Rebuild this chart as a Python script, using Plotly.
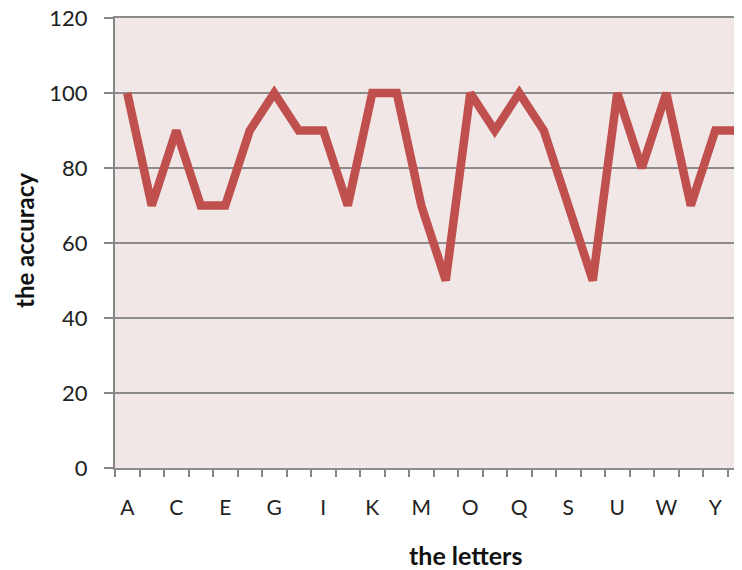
import plotly.graph_objects as go

letters = list("ABCDEFGHIJKLMNOPQRSTUVWXYZ")
accuracy = [100, 70, 90, 70, 70, 90, 100, 90, 90, 70, 100, 100, 70,
            50, 100, 90, 100, 90, 70, 50, 100, 80, 100, 70, 90, 90]
y_ticks = [0, 20, 40, 60, 80, 100, 120]
x_label_letters = letters[::2]

# page offset (browser body margin) compensation: figure placed at (8, 8)
L, T, B = 107, 10, 102
W, H = 734, 562
PW, PH = W - L, H - T - B

fig = go.Figure()
fig.add_trace(go.Scatter(
    x=letters, y=accuracy, mode="lines",
    line=dict(color="#C0504D", width=8.5),
    hoverinfo="skip",
))

fnt = "Lato, Carlito, Calibri, sans-serif"
fig.update_layout(
    width=W, height=H,
    margin=dict(l=L, r=0, t=T, b=B, autoexpand=False),
    paper_bgcolor="white",
    plot_bgcolor="#F2E7E7",
    showlegend=False,
    xaxis=dict(
        type="category",
        categoryorder="array", categoryarray=letters,
        range=[-0.5, 25.09],
        tickmode="array", tickvals=x_label_letters, ticktext=x_label_letters,
        showgrid=False,
        showline=True, linecolor="#8C8C8C", linewidth=2, mirror=True,
        ticks="",
        minor=dict(ticks="outside", tickmode="array",
                   tickvals=[i - 0.5 for i in range(27)],
                   ticklen=7, tickcolor="#868686", tickwidth=1.5),
        tickfont=dict(family=fnt, size=21, color="#222222"),
        ticklabelstandoff=20,
        zeroline=False,
        automargin=False,
    ),
    yaxis=dict(
        range=[0, 120],
        tickmode="array", tickvals=y_ticks,
        showgrid=True, gridcolor="#8C8C8C", gridwidth=1.5,
        showline=True, linecolor="#868686", linewidth=2,
        ticks="outside", ticklen=9, tickcolor="#868686", tickwidth=1.5,
        tickfont=dict(family=fnt, size=22, color="#222222"),
        ticklabelstandoff=12,
        ticklabeloverflow="allow",
        zeroline=False,
        automargin=False,
    ),
    annotations=[
        dict(text="<b>the letters</b>", xref="paper", yref="paper",
             x=(457 - L) / PW, y=-(547 - (T + PH)) / PH, showarrow=False,
             font=dict(family=fnt, size=25, color="#111111"),
             xanchor="center", yanchor="middle"),
        dict(text="<b>the accuracy</b>", xref="paper", yref="paper",
             x=-(L - 16) / PW, y=((T + PH) - 233) / PH, showarrow=False,
             textangle=-90,
             font=dict(family=fnt, size=24, color="#111111"),
             xanchor="center", yanchor="middle"),
    ],
)

fig.write_html("out.html")
